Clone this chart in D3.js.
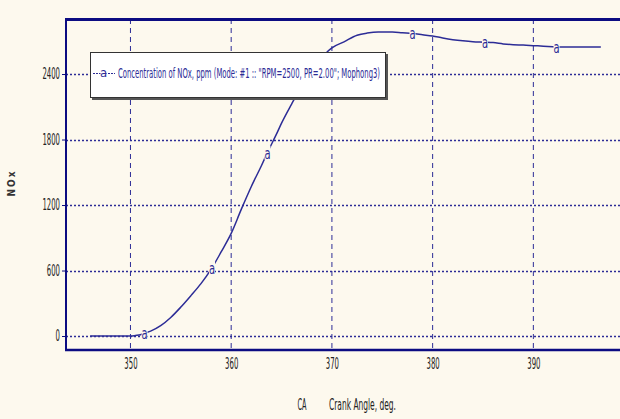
<!DOCTYPE html>
<html>
<head>
<meta charset="utf-8">
<script src="https://cdn.jsdelivr.net/npm/d3@7"></script>
<style>
  html, body { margin: 0; padding: 0; background: #fdf9ee; }
  svg { display: block; }
  text { font-family: "Liberation Sans Narrow", "DejaVu Sans Condensed", "Liberation Sans", sans-serif; }
</style>
</head>
<body>
<svg id="chart" width="620" height="419"></svg>
<script>
// crank angle (deg) and NOx concentration (ppm)
const crankAngle = [346.0, 350.0, 350.5, 351.0, 351.4, 352, 353, 354, 355, 356, 357, 358, 359, 360,
  361, 362, 363, 363.6, 364.6, 365, 366, 367, 368, 369, 369.5, 370, 371.2, 372.5, 373.5, 374.6,
  376, 377, 378, 379, 380, 381, 382, 383, 384, 385.2, 386, 387, 388, 389, 390, 391, 392.3, 394, 396.7];
const noxPpm = [0, 0, 5, 12, 27, 45, 95, 170, 265, 370, 480, 610, 770, 940,
  1160, 1370, 1560, 1680, 1870, 1950, 2125, 2290, 2430, 2545, 2600, 2640, 2695, 2755, 2775, 2785,
  2785, 2778, 2772, 2760, 2748, 2730, 2715, 2704, 2696, 2692, 2688, 2676, 2668, 2665, 2660, 2655, 2648, 2648, 2648];
const markerAngles = [351.4, 358.1, 363.6, 378.0, 385.2, 392.3];
const xTicks = [350, 360, 370, 380, 390];
const yTicks = [0, 600, 1200, 1800, 2400];
const legendLabel = 'Concentration of NOx, ppm (Mode: #1 :: "RPM=2500, PR=2.00"; Mophong3)';

const ink = "#2c2c96";
const axisInk = "#0c0c82";
const svg = d3.select("#chart");

const x = d3.scaleLinear().domain([343.6, 398.9]).range([66, 623]);
const y = d3.scaleLinear().domain([-128, 2904]).range([350, 19]);

const data = crankAngle.map((c, i) => ({ c, v: noxPpm[i] }));
const valueAt = c => {
  const i = d3.bisector(d => d.c).left(data, c);
  if (i <= 0) return data[0].v;
  const a = data[i - 1], b = data[i];
  return a.v + (b.v - a.v) * (c - a.c) / (b.c - a.c);
};

// grid
svg.append("g").selectAll("line")
  .data(xTicks).join("line")
  .attr("x1", d => x(d)).attr("x2", d => x(d))
  .attr("y1", y.range()[1]).attr("y2", y.range()[0])
  .attr("stroke", ink).attr("stroke-width", 1).attr("stroke-dasharray", "5,4");

svg.append("g").selectAll("line")
  .data(yTicks).join("line")
  .attr("x1", x.range()[0]).attr("x2", 620)
  .attr("y1", d => Math.round(y(d)) + 0.5).attr("y2", d => Math.round(y(d)) + 0.5)
  .attr("stroke", ink).attr("stroke-width", 1.6).attr("stroke-dasharray", "2,2");

// the curve
const line = d3.line().x(d => x(d.c)).y(d => y(d.v)).curve(d3.curveMonotoneX);
svg.append("path")
  .datum(data)
  .attr("d", line)
  .attr("fill", "none")
  .attr("stroke", ink)
  .attr("stroke-width", 1.5);

// point markers
const mk = svg.append("g").selectAll("g")
  .data(markerAngles).join("g")
  .attr("transform", d => `translate(${x(d)},${y(valueAt(d))})`);
mk.append("rect").attr("x", -3).attr("y", -7).attr("width", 6).attr("height", 14).attr("fill", "#fdf9ee");
mk.append("text")
  .attr("text-anchor", "middle").attr("dy", "0.38em")
  .attr("font-size", 13).attr("fill", ink)
  .attr("transform", "scale(0.85,1.2)")
  .text("a");

// axes frame
svg.append("line").attr("x1", 65).attr("x2", 620).attr("y1", 19.5).attr("y2", 19.5)
  .attr("stroke", axisInk).attr("stroke-width", 3);
svg.append("line").attr("x1", 65).attr("x2", 620).attr("y1", 350).attr("y2", 350)
  .attr("stroke", axisInk).attr("stroke-width", 2.5);
svg.append("line").attr("x1", 66).attr("x2", 66).attr("y1", 18).attr("y2", 351)
  .attr("stroke", axisInk).attr("stroke-width", 2);

const xAxis = svg.append("g")
  .attr("transform", "translate(0,350)")
  .call(d3.axisBottom(x).tickValues(xTicks).tickSize(0).tickPadding(8).tickFormat(d3.format("d")));
const yAxis = svg.append("g")
  .attr("transform", "translate(65,0)")
  .call(d3.axisLeft(y).tickValues(yTicks).tickSize(3).tickPadding(2).tickFormat(d3.format("d")));
[xAxis, yAxis].forEach(ax => {
  ax.select(".domain").remove();
  ax.selectAll("line").attr("stroke", axisInk);
  ax.selectAll("text")
    .attr("fill", "#222").attr("font-size", 15).attr("font-family", null)
    .attr("textLength", function () { return this.textContent.length * 4.4; })
    .attr("lengthAdjust", "spacingAndGlyphs");
});

// axis titles
svg.append("text").attr("x", 302).attr("y", 410).attr("text-anchor", "middle")
  .attr("font-size", 15).attr("fill", "#222")
  .attr("textLength", 9).attr("lengthAdjust", "spacingAndGlyphs").text("CA");
svg.append("text").attr("x", 329).attr("y", 410)
  .attr("font-size", 15).attr("fill", "#222")
  .attr("textLength", 67).attr("lengthAdjust", "spacingAndGlyphs").text("Crank Angle, deg.");
svg.append("text")
  .attr("transform", "translate(15,183) rotate(-90)")
  .attr("text-anchor", "middle")
  .attr("font-size", 10).attr("font-weight", "bold").attr("fill", "#333")
  .attr("letter-spacing", 2)
  .attr("font-family", "DejaVu Sans, sans-serif")
  .text("NOx");

// legend
const lg = svg.append("g").attr("transform", "translate(90,52)");
lg.append("rect").attr("x", 2).attr("y", 2).attr("width", 296).attr("height", 46).attr("fill", "#555");
lg.append("rect").attr("x", 0.5).attr("y", 0.5).attr("width", 295).attr("height", 45)
  .attr("fill", "#ffffff").attr("stroke", "#333").attr("stroke-width", 1);
lg.append("line").attr("x1", 3).attr("x2", 25).attr("y1", 21.5).attr("y2", 21.5)
  .attr("stroke", ink).attr("stroke-width", 1).attr("stroke-dasharray", "2,1");
lg.append("rect").attr("x", 10.5).attr("y", 14).attr("width", 6).attr("height", 14).attr("fill", "#fff");
lg.append("text").attr("x", 13.5).attr("y", 25).attr("text-anchor", "middle")
  .attr("font-size", 13).attr("fill", ink).text("a");
lg.append("text").attr("x", 28).attr("y", 26)
  .attr("font-size", 14).attr("fill", ink)
  .attr("textLength", 262).attr("lengthAdjust", "spacingAndGlyphs")
  .text(legendLabel);
</script>
</body>
</html>
